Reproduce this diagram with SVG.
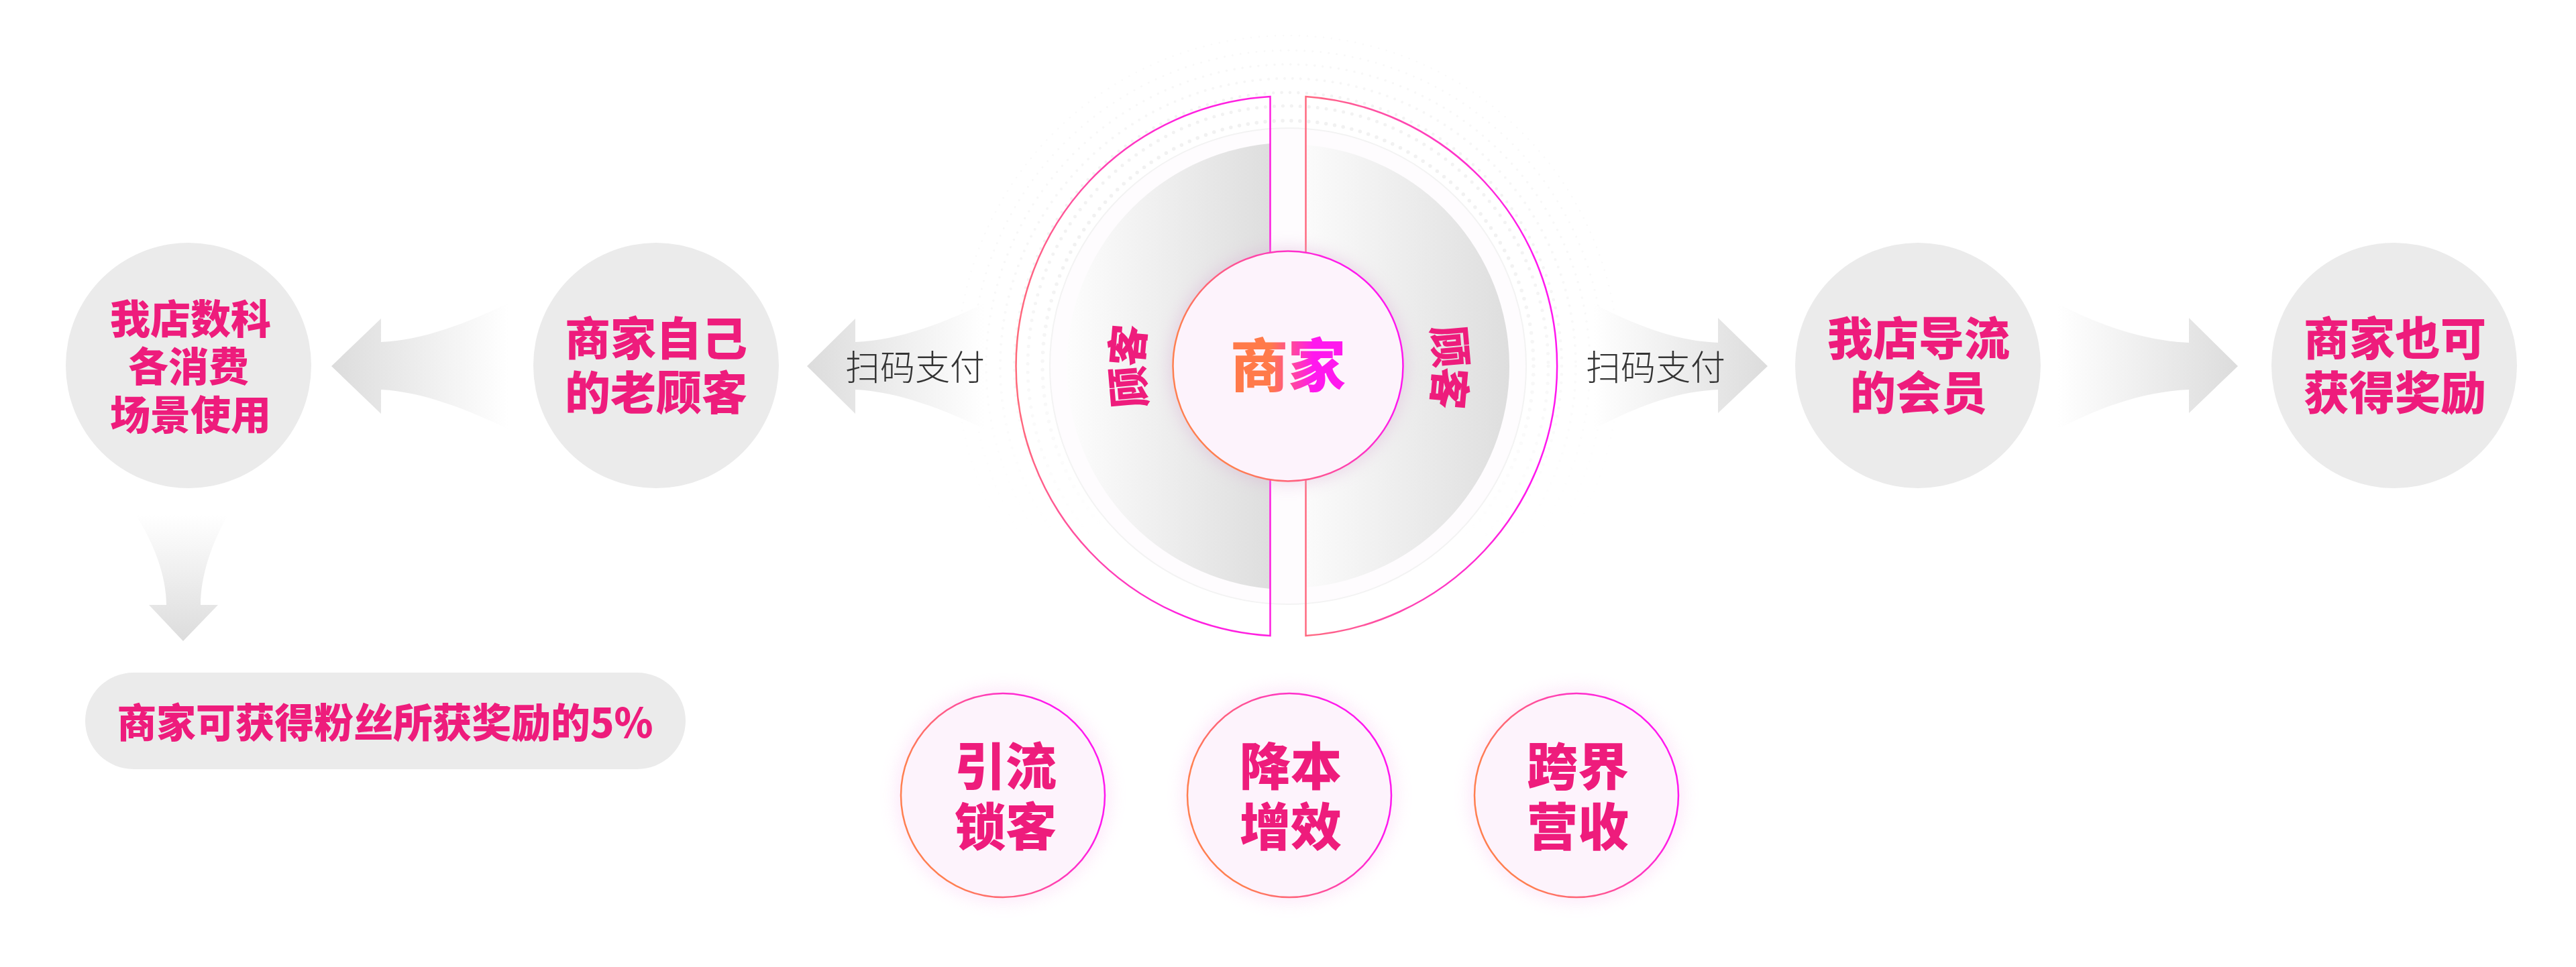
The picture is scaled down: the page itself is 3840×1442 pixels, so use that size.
<svg xmlns="http://www.w3.org/2000/svg" width="3840" height="1442" viewBox="0 0 3840 1442">
<style>
text{font-family:"Noto Sans CJK SC","Noto Sans",sans-serif;text-anchor:middle}
.n{fill:#ee1c7c;font-weight:900}
.g{fill:#ebebeb}
.l{fill:#333;font-size:52px;font-weight:300}
.d{fill:none;stroke-linecap:round;stroke:#e8e8e8}
.a{stroke-width:2.500;fill:none}
.s{fill:#fdf3fc;stroke-width:2.500}
</style>
<defs>
<linearGradient id="warm" x1="0" y1="0.7" x2="1" y2="0.3"><stop offset="0.15" stop-color="#ff7f50"/><stop offset="0.85" stop-color="#ff18ee"/></linearGradient>
<linearGradient id="arcL" gradientUnits="userSpaceOnUse" x1="1515" y1="0" x2="1893" y2="0"><stop offset="0" stop-color="#ff6a7a"/><stop offset="0.65" stop-color="#ff20e0"/></linearGradient>
<linearGradient id="arcR" gradientUnits="userSpaceOnUse" x1="1946" y1="0" x2="2320" y2="0"><stop offset="0" stop-color="#ff6a80"/><stop offset="0.9" stop-color="#ff18ee"/></linearGradient>
<linearGradient id="txt" x1="0" y1="0" x2="1" y2="0"><stop offset="0.35" stop-color="#ff7a4a"/><stop offset="0.72" stop-color="#ff18ee"/></linearGradient>
<linearGradient id="grayL" gradientUnits="userSpaceOnUse" x1="1590" y1="0" x2="1893" y2="0"><stop offset="0" stop-color="#fdfdfd"/><stop offset="1" stop-color="#dedede"/></linearGradient>
<linearGradient id="grayR" gradientUnits="userSpaceOnUse" x1="1946" y1="0" x2="2250" y2="0"><stop offset="0" stop-color="#fbfbfb"/><stop offset="1" stop-color="#dedede"/></linearGradient>
<linearGradient id="fadeL" x1="0" y1="0" x2="1" y2="0"><stop offset="0" stop-color="#dcdcdc"/><stop offset="1" stop-color="#fff"/></linearGradient>
<linearGradient id="fadeR" x1="1" y1="0" x2="0" y2="0"><stop offset="0" stop-color="#dcdcdc"/><stop offset="1" stop-color="#fff"/></linearGradient>
<linearGradient id="fadeD" x1="0" y1="1" x2="0" y2="0"><stop offset="0" stop-color="#dcdcdc"/><stop offset="1" stop-color="#fff"/></linearGradient>
<linearGradient id="dotFade" gradientUnits="userSpaceOnUse" x1="0" y1="200" x2="0" y2="800"><stop offset="0.3" stop-color="#fff"/><stop offset="1" stop-color="#000"/></linearGradient>
<mask id="dotMask" maskUnits="userSpaceOnUse" x="1380" y="0" width="1080" height="1100"><rect x="1380" y="0" width="1080" height="1100" fill="url(#dotFade)"/></mask>
<filter id="glow" x="-20%" y="-20%" width="140%" height="140%"><feGaussianBlur stdDeviation="12"/></filter>
</defs>

<g id="halo">
<g mask="url(#dotMask)">
<circle class="d" cx="1920" cy="546" r="493" stroke-width="2.500" stroke-dasharray="0 12" opacity="0.25"/>
<circle class="d" cx="1920" cy="546" r="471" stroke-width="3" stroke-dasharray="0 12" opacity="0.3"/>
<circle class="d" cx="1920" cy="546" r="450" stroke-width="3.500" stroke-dasharray="0 12" opacity="0.35"/>
<circle class="d" cx="1920" cy="546" r="429" stroke-width="4" stroke-dasharray="0 12" opacity="0.4"/>
<circle class="d" cx="1920" cy="546" r="408" stroke-width="4.500" stroke-dasharray="0 12.500" opacity="0.5"/>
<circle class="d" cx="1920" cy="546" r="388" stroke-width="5" stroke-dasharray="0 13" opacity="0.55"/>
<circle class="d" cx="1920" cy="546" r="366" stroke-width="5.500" stroke-dasharray="0 13" opacity="0.6"/>
</g>
<circle cx="1920" cy="546" r="355" fill="#fefcfe" stroke="#f3f3f3" stroke-width="2"/>
</g>

<g id="wing-left">
<path d="M1893 214A333.400 333.400 0 0 0 1893 878Z" fill="url(#grayL)"/>
<path d="M1893.500 144A402.700 402.700 0 0 0 1893.500 948Z" class="a" stroke="url(#arcL)"/>
<g class="n" font-size="62">
<text transform="translate(1682 515) rotate(-85)" y="22">客</text>
<text transform="translate(1684 577) rotate(-95)" y="22">顾</text>
</g>
</g>

<g id="wing-right">
<path d="M1947 216A331.200 331.200 0 0 1 1947 876Z" fill="url(#grayR)"/>
<path d="M1946.500 144A403 403 0 0 1 1946.500 948Z" class="a" stroke="url(#arcR)"/>
<g class="n" font-size="62">
<text transform="translate(2160 517) rotate(85)" y="22">顾</text>
<text transform="translate(2160 579) rotate(95)" y="22">客</text>
</g>
</g>

<g id="merchant">
<circle cx="1920" cy="546" r="176" fill="#d9a6d2" opacity="0.4" filter="url(#glow)"/>
<circle cx="1920" cy="546" r="171.500" class="s" stroke="url(#warm)"/>
<text x="1920" y="577" font-size="86" font-weight="900" fill="url(#txt)">商家</text>
</g>

<g id="connectors">
<g id="arrow-left-1"><path d="M494 546L568 475V510C630 508 700 480 758 452V640C700 612 630 584 568 581V617Z" fill="url(#fadeL)"/></g>
<g id="arrow-left-2"><path d="M1203 546L1275 475V510C1340 508 1410 480 1468 452V640C1410 612 1340 584 1275 581V617Z" fill="url(#fadeL)"/></g>
<g id="arrow-right-1"><path d="M2635 546L2561 474V511C2490 508 2430 480 2375 453V640C2430 612 2490 584 2561 581V616Z" fill="url(#fadeR)"/></g>
<g id="arrow-right-2"><path d="M3336 546L3263 474V511C3190 508 3120 480 3068 453V640C3120 612 3190 584 3263 581V616Z" fill="url(#fadeR)"/></g>
<g id="arrow-down"><path d="M273 956L222 902H248C248 860 230 810 202 768H340C315 810 299 860 299 902H325Z" fill="url(#fadeD)"/></g>
</g>

<text class="l" x="1364" y="567">扫码支付</text>
<text class="l" x="2468" y="567">扫码支付</text>

<g id="node-digital"><circle class="g" cx="281" cy="545" r="183"/>
<g class="n" font-size="60"><text x="284" y="498">我店数科</text><text x="281" y="569">各消费</text><text x="284" y="641">场景使用</text></g></g>
<g id="node-old"><circle class="g" cx="978" cy="545" r="183"/>
<g class="n" font-size="68"><text x="978" y="530">商家自己</text><text x="978" y="611">的老顾客</text></g></g>
<g id="node-member"><circle class="g" cx="2859" cy="545" r="183"/>
<g class="n" font-size="68"><text x="2860" y="530">我店导流</text><text x="2860" y="611">的会员</text></g></g>
<g id="node-reward"><circle class="g" cx="3569" cy="545" r="183"/>
<g class="n" font-size="68"><text x="3570" y="530">商家也可</text><text x="3570" y="611">获得奖励</text></g></g>
<g id="node-fans"><rect class="g" x="127" y="1003" width="895" height="144" rx="72"/>
<text class="n" x="574" y="1100" font-size="60" textLength="799" lengthAdjust="spacingAndGlyphs">商家可获得粉丝所获奖励的5%</text></g>

<g id="benefit-1"><circle cx="1495" cy="1186" r="160" fill="#fbd0f4" opacity="0.45" filter="url(#glow)"/><circle class="s" cx="1495" cy="1186" r="152" stroke="url(#warm)"/>
<g class="n" font-size="76"><text x="1499" y="1171">引流</text><text x="1499" y="1261">锁客</text></g></g>
<g id="benefit-2"><circle cx="1922" cy="1186" r="160" fill="#fbd0f4" opacity="0.45" filter="url(#glow)"/><circle class="s" cx="1922" cy="1186" r="152" stroke="url(#warm)"/>
<g class="n" font-size="76"><text x="1924" y="1171">降本</text><text x="1924" y="1261">增效</text></g></g>
<g id="benefit-3"><circle cx="2350" cy="1186" r="160" fill="#fbd0f4" opacity="0.45" filter="url(#glow)"/><circle class="s" cx="2350" cy="1186" r="152" stroke="url(#warm)"/>
<g class="n" font-size="76"><text x="2352" y="1171">跨界</text><text x="2352" y="1261">营收</text></g></g>
</svg>
